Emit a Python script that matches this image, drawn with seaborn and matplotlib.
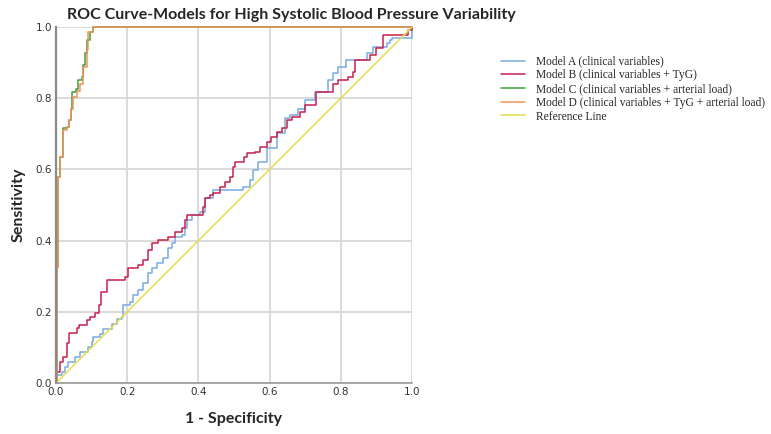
import numpy as np
import pandas as pd
import matplotlib
matplotlib.use("Agg")
import matplotlib.pyplot as plt
import seaborn as sns

# ROC points (1 - specificity, sensitivity)
a_fpr = [0, 0.004, 0.016, 0.025, 0.035, 0.053, 0.067, 0.091, 0.100, 0.105, 0.124, 0.133, 0.156, 0.170,
         0.184, 0.189, 0.208, 0.217, 0.231, 0.245, 0.259, 0.269, 0.283, 0.301, 0.315, 0.325, 0.334, 0.353,
         0.362, 0.367, 0.381, 0.404, 0.419, 0.442, 0.526, 0.545, 0.554, 0.568, 0.592, 0.620, 0.643, 0.657,
         0.681, 0.699, 0.728, 0.765, 0.779, 0.793, 0.816, 0.873, 0.891, 0.929, 0.938, 0.945, 1.0]
a_tpr = [0, 0.022, 0.030, 0.046, 0.060, 0.074, 0.088, 0.102, 0.116, 0.130, 0.139, 0.153, 0.167, 0.181,
         0.186, 0.219, 0.228, 0.247, 0.261, 0.280, 0.308, 0.322, 0.336, 0.350, 0.378, 0.392, 0.411, 0.416,
         0.434, 0.458, 0.472, 0.481, 0.519, 0.542, 0.551, 0.570, 0.598, 0.622, 0.660, 0.702, 0.743, 0.753,
         0.771, 0.795, 0.818, 0.851, 0.870, 0.888, 0.907, 0.926, 0.944, 0.954, 0.963, 0.968, 1.0]

b_fpr = [0, 0.004, 0.011, 0.020, 0.030, 0.037, 0.058, 0.065, 0.086, 0.096, 0.110, 0.122, 0.125, 0.144,
         0.194, 0.203, 0.231, 0.243, 0.259, 0.271, 0.287, 0.316, 0.334, 0.353, 0.362, 0.367, 0.414, 0.419,
         0.433, 0.442, 0.461, 0.475, 0.489, 0.498, 0.503, 0.527, 0.536, 0.559, 0.573, 0.592, 0.605, 0.620,
         0.634, 0.648, 0.662, 0.685, 0.699, 0.731, 0.779, 0.793, 0.821, 0.835, 0.840, 0.882, 0.900, 0.919,
         0.990, 1.0]
b_tpr = [0, 0.030, 0.060, 0.074, 0.112, 0.140, 0.154, 0.163, 0.177, 0.186, 0.196, 0.219, 0.256, 0.289,
         0.298, 0.322, 0.331, 0.346, 0.374, 0.392, 0.402, 0.411, 0.425, 0.434, 0.458, 0.472, 0.495, 0.519,
         0.528, 0.533, 0.551, 0.566, 0.580, 0.608, 0.622, 0.636, 0.646, 0.650, 0.664, 0.678, 0.692, 0.706,
         0.715, 0.739, 0.748, 0.762, 0.781, 0.818, 0.840, 0.851, 0.860, 0.874, 0.907, 0.921, 0.940, 0.978,
         0.992, 1.0]

c_fpr = [0, 0.002, 0.006, 0.011, 0.021, 0.030, 0.037, 0.041, 0.044, 0.056, 0.063, 0.072, 0.077, 0.081,
         0.088, 0.096, 0.105, 1.0]
c_tpr = [0, 0.327, 0.580, 0.636, 0.716, 0.720, 0.739, 0.771, 0.818, 0.827, 0.851, 0.860, 0.893, 0.927,
         0.963, 0.987, 1.0, 1.0]

d_fpr = [0, 0.002, 0.007, 0.011, 0.019, 0.021, 0.030, 0.037, 0.041, 0.049, 0.058, 0.067, 0.077, 0.086,
         0.091, 0.103, 1.0]
d_tpr = [0, 0.327, 0.580, 0.636, 0.650, 0.711, 0.720, 0.739, 0.771, 0.804, 0.821, 0.840, 0.888, 0.935,
         0.987, 1.0, 1.0]

ref_x = [0, 1]
ref_y = [0, 1]

labels = ["Model A (clinical variables)",
          "Model B (clinical variables + TyG)",
          "Model C (clinical variables + arterial load)",
          "Model D (clinical variables + TyG + arterial load)",
          "Reference Line"]
colors = ["#78abe0", "#c8214f", "#3e9b3e", "#f2925a", "#e6dc50"]

frames = []
for lab, xs, ys in zip(labels, [a_fpr, b_fpr, c_fpr, d_fpr, ref_x], [a_tpr, b_tpr, c_tpr, d_tpr, ref_y]):
    frames.append(pd.DataFrame({"fpr": xs, "tpr": ys, "model": lab}))
df = pd.concat(frames, ignore_index=True)

sns.set_style("white")
fig = plt.figure(figsize=(7.71, 4.34), dpi=100)
ax = fig.add_axes([56 / 771, 51 / 434, 356 / 771, 356 / 434])

for lab, col in zip(labels, colors):
    sub = df[df["model"] == lab]
    ds = "default" if lab == "Reference Line" else "steps-post"
    sns.lineplot(data=sub, x="fpr", y="tpr", ax=ax, color=col, lw=1.1,
                 estimator=None, sort=False, drawstyle=ds, label=lab, legend=False,
                 clip_on=False)

ax.set_xlim(0, 1)
ax.set_ylim(0, 1)
ticks = [0.0, 0.2, 0.4, 0.6, 0.8, 1.0]
ax.set_xticks(ticks)
ax.set_yticks(ticks)
ax.set_xticklabels([f"{t:.1f}" for t in ticks])
ax.set_yticklabels([f"{t:.1f}" for t in ticks])
ax.tick_params(length=0, labelsize=7.5, colors="#333333", pad=3)
ax.grid(True, color="#d8d8d8", lw=1.3)
ax.set_axisbelow(True)
for s in ["top", "right"]:
    ax.spines[s].set_visible(False)
ax.spines["left"].set_color("#8a8a8a")
ax.spines["left"].set_linewidth(1.6)
ax.spines["bottom"].set_color("#9a9a9a")
ax.spines["bottom"].set_linewidth(1.2)

ax.set_xlabel("1 - Specificity", fontsize=11.5, fontweight="bold", family="Lato", labelpad=11)
ax.set_ylabel("Sensitivity", fontsize=11.5, fontweight="bold", family="Lato", labelpad=7)

fig.text(67 / 771, 1 - 15 / 434, "ROC Curve-Models for High Systolic Blood Pressure Variability",
         fontsize=11.5, fontweight="bold", family="Lato", ha="left", va="center")

handles = [plt.Line2D([], [], color=c, lw=1.1) for c in colors]
fig.legend(handles, labels, loc="upper left", bbox_to_anchor=(496 / 771, 1 - 51 / 434),
           frameon=False, prop={"family": "Liberation Serif", "size": 8.3},
           handlelength=2.1, handletextpad=1.0, labelspacing=0.15, borderaxespad=0)

fig.savefig("out.png", dpi=100)
